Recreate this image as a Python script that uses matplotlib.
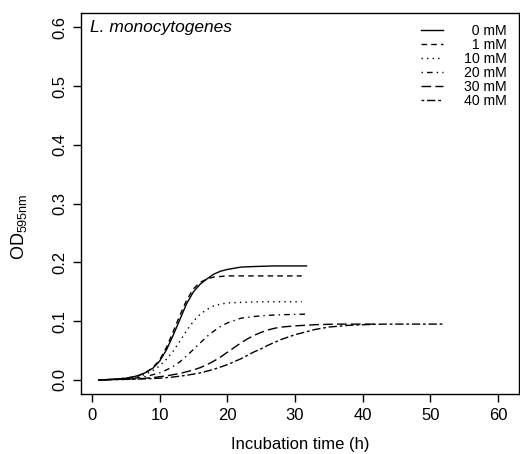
import matplotlib
matplotlib.use("Agg")
import matplotlib.pyplot as plt

plt.rcParams["font.family"] = ["Liberation Sans", "DejaVu Sans"]
plt.rcParams["mathtext.fontset"] = "custom"
plt.rcParams["mathtext.rm"] = "Liberation Sans"

# values (hours, OD595nm)
t_0mM = [1, 3, 5, 6, 7, 8, 9, 10, 11, 12, 13, 14, 15, 16, 17, 18, 19, 20, 21, 22, 24, 27, 31.7]
od_0mM = [0.000, 0.001, 0.003, 0.005, 0.008, 0.013, 0.020, 0.032, 0.051, 0.076, 0.103, 0.130,
          0.150, 0.163, 0.172, 0.180, 0.185, 0.188, 0.190, 0.192, 0.193, 0.194, 0.194]

t_1mM = [1, 3, 5, 6, 7, 8, 9, 10, 11, 12, 13, 14, 15, 16, 17, 18, 19, 20, 22, 26, 31]
od_1mM = [0.000, 0.001, 0.003, 0.005, 0.008, 0.013, 0.021, 0.034, 0.055, 0.082, 0.110, 0.136,
          0.155, 0.166, 0.172, 0.175, 0.176, 0.177, 0.177, 0.177, 0.177]

t_10mM = [1, 3, 5, 6, 7, 8, 9, 10, 11, 12, 13, 14, 15, 16, 17, 18, 19, 20, 22, 25, 31]
od_10mM = [0.000, 0.001, 0.002, 0.004, 0.006, 0.010, 0.016, 0.024, 0.035, 0.049, 0.066, 0.084,
           0.100, 0.112, 0.120, 0.126, 0.129, 0.131, 0.132, 0.133, 0.133]

t_20mM = [1, 3, 5, 7, 8, 9, 10, 11, 12, 13, 14, 15, 16, 17, 18, 19, 20, 21, 22, 24, 26, 28, 31.7]
od_20mM = [0.000, 0.001, 0.002, 0.004, 0.006, 0.009, 0.012, 0.017, 0.023, 0.031, 0.041, 0.052,
           0.063, 0.074, 0.083, 0.091, 0.097, 0.101, 0.105, 0.108, 0.110, 0.111, 0.112]

t_30mM = [1, 4, 7, 9, 11, 13, 15, 16, 17, 18, 19, 20, 21, 22, 23, 24, 25, 26, 27, 28, 30, 33, 36, 42]
od_30mM = [0.000, 0.001, 0.002, 0.004, 0.007, 0.011, 0.017, 0.021, 0.026, 0.032, 0.039, 0.047,
           0.055, 0.063, 0.070, 0.076, 0.081, 0.085, 0.088, 0.090, 0.092, 0.094, 0.095, 0.095]

t_40mM = [1, 5, 8, 10, 12, 14, 16, 18, 19, 20, 21, 22, 23, 24, 25, 26, 27, 28, 29, 30, 31, 32,
          33, 34, 35, 36, 37, 38, 40, 43, 52]
od_40mM = [0.000, 0.001, 0.002, 0.003, 0.005, 0.008, 0.012, 0.018, 0.022, 0.026, 0.031, 0.036,
           0.042, 0.048, 0.053, 0.059, 0.064, 0.069, 0.073, 0.077, 0.080, 0.083, 0.086, 0.088,
           0.090, 0.091, 0.092, 0.093, 0.094, 0.095, 0.095]

series = [
    (t_0mM, od_0mM, "  0 mM", "-"),
    (t_1mM, od_1mM, "  1 mM", (0, (4, 3))),
    (t_10mM, od_10mM, "10 mM", (0, (1, 3))),
    (t_20mM, od_20mM, "20 mM", (0, (1, 3, 4, 3))),
    (t_30mM, od_30mM, "30 mM", (0, (7, 3))),
    (t_40mM, od_40mM, "40 mM", (0, (2, 2, 6, 2))),
]

fig = plt.figure(figsize=(5.2, 4.54), dpi=100)
ax = fig.add_axes([0.156, 0.132, 0.842, 0.839])

for t, od, lab, ls in series:
    ax.plot(t, od, color="black", linestyle=ls, linewidth=1.0, label=lab)

ax.set_xlim(-1.6, 63.1)
ax.set_ylim(-0.024, 0.624)
ax.set_xticks([0, 10, 20, 30, 40, 50, 60])
ax.set_yticks([0.0, 0.1, 0.2, 0.3, 0.4, 0.5, 0.6])
ax.set_yticklabels(["0.0", "0.1", "0.2", "0.3", "0.4", "0.5", "0.6"], rotation=90, va="center")
ax.tick_params(direction="out", length=6, width=1, labelsize=12, pad=4)
for sp in ax.spines.values():
    sp.set_linewidth(1)

ax.set_xlabel("Incubation time (h)", fontsize=12)
ax.set_ylabel(r"OD$_{\mathrm{595nm}}$", fontsize=13)
ax.yaxis.set_label_coords(-0.118, 0.44)
ax.xaxis.set_label_coords(0.5, -0.112)

ax.text(0.02, 0.982, "L. monocytogenes", style="italic", fontsize=12.5,
        transform=ax.transAxes, ha="left", va="top")

leg = ax.legend(loc="upper right", bbox_to_anchor=(0.972, 0.972), frameon=False,
                fontsize=10.2, handlelength=1.6, handletextpad=1.45, labelspacing=0.0,
                borderaxespad=0, borderpad=0)

fig.savefig("out.png", dpi=100)
